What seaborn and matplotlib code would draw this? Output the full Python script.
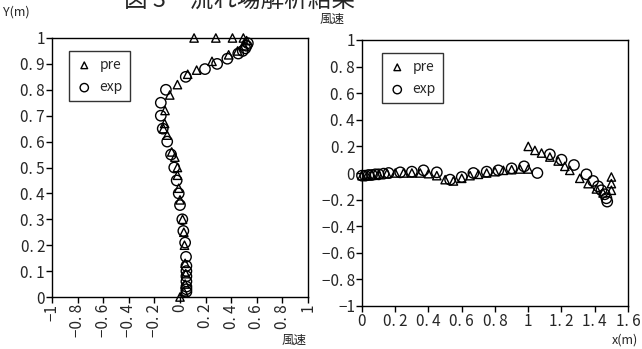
import numpy as np
import pandas as pd
import seaborn as sns
from matplotlib import pyplot as plt
from matplotlib.ticker import FuncFormatter

# left panel: vertical profile (wind speed vs height)
pre_u = [0.0, 0.03, 0.04, 0.045, 0.04, 0.035, 0.03, 0.02, 0.0, -0.01, -0.02,
         -0.02, -0.04, -0.065, -0.10, -0.12, -0.13, -0.117, -0.08, -0.02,
         0.06, 0.13, 0.25, 0.38, 0.45, 0.50, 0.52, 0.11, 0.28, 0.41, 0.495]
pre_y = [0.0, 0.02, 0.05, 0.09, 0.13, 0.20, 0.25, 0.30, 0.375, 0.42, 0.47,
         0.50, 0.54, 0.56, 0.625, 0.67, 0.65, 0.72, 0.78, 0.82,
         0.86, 0.876, 0.91, 0.935, 0.95, 0.97, 0.99, 1.0, 1.0, 1.0, 1.0]
exp_u = [0.05, 0.05, 0.05, 0.05, 0.05, 0.05, 0.05, 0.047, 0.04, 0.026, 0.018,
         0.0, -0.01, -0.026, -0.045, -0.07, -0.10, -0.135, -0.15, -0.15,
         -0.11, 0.045, 0.195, 0.29, 0.37, 0.455, 0.49, 0.51, 0.52, 0.53]
exp_y = [0.02, 0.03, 0.04, 0.06, 0.08, 0.10, 0.12, 0.155, 0.21, 0.255, 0.30,
         0.355, 0.40, 0.45, 0.50, 0.55, 0.60, 0.65, 0.70, 0.75,
         0.80, 0.85, 0.88, 0.90, 0.92, 0.94, 0.95, 0.96, 0.97, 0.98]

# right panel: horizontal distribution (wind speed vs x)
pre_x2 = [0.0, 0.03, 0.06, 0.1, 0.15, 0.2, 0.25, 0.3, 0.35, 0.4, 0.45, 0.5,
          0.55, 0.6, 0.65, 0.7, 0.75, 0.8, 0.85, 0.9, 0.95, 1.0,
          1.0, 1.04, 1.08, 1.13, 1.18, 1.22, 1.25, 1.31, 1.36, 1.41, 1.45,
          1.50, 1.50, 1.50]
pre_v2 = [-0.02, -0.02, -0.015, -0.01, -0.005, 0.0, 0.0, 0.0, 0.0, -0.005,
          -0.02, -0.05, -0.06, -0.04, -0.02, -0.01, 0.0, 0.01, 0.02, 0.025,
          0.03, 0.03,
          0.20, 0.17, 0.15, 0.12, 0.09, 0.05, 0.02, -0.04, -0.08, -0.12,
          -0.15, -0.03, -0.08, -0.13]
exp_x2 = [0.0, 0.02, 0.04, 0.06, 0.08, 0.1, 0.13, 0.16, 0.23, 0.30, 0.37,
          0.45, 0.53, 0.60, 0.67, 0.75, 0.82, 0.90, 0.975, 1.055, 1.13, 1.20,
          1.275, 1.35, 1.39, 1.42, 1.44, 1.46, 1.47, 1.475]
exp_v2 = [-0.02, -0.02, -0.015, -0.015, -0.01, -0.01, -0.005, 0.0, 0.005,
          0.01, 0.02, 0.005, -0.05, -0.03, 0.0, 0.01, 0.02, 0.035, 0.05,
          0.0, 0.14, 0.10, 0.06, -0.01, -0.06, -0.10, -0.13, -0.16, -0.19,
          -0.215]

left_ticks = [-1, -0.8, -0.6, -0.4, -0.2, 0, 0.2, 0.4, 0.6, 0.8, 1]
yl_ticks = [0, 0.1, 0.2, 0.3, 0.4, 0.5, 0.6, 0.7, 0.8, 0.9, 1]
right_xticks = [0, 0.2, 0.4, 0.6, 0.8, 1, 1.2, 1.4, 1.6]
right_yticks = [-1, -0.8, -0.6, -0.4, -0.2, 0, 0.2, 0.4, 0.6, 0.8, 1]

sns.set_style("white")
plt.rcParams['font.family'] = ['Noto Sans CJK JP', 'DejaVu Sans']


def fmt(v, pos=None):
    s = ("%.1f" % v).rstrip("0").rstrip(".")
    if s == "-0":
        s = "0"
    return s.replace(".", ". ").replace("-", "−")


fig = plt.figure(figsize=(6.42, 3.49), dpi=100)
ax1 = fig.add_axes([52 / 642, 1 - 297 / 349, 256 / 642, 259 / 349])
ax2 = fig.add_axes([362 / 642, 1 - 306 / 349, 266 / 642, 266 / 349])

left = pd.concat([
    pd.DataFrame({"u": pre_u, "y": pre_y, "kind": "pre"}),
    pd.DataFrame({"u": exp_u, "y": exp_y, "kind": "exp"}),
])
right = pd.concat([
    pd.DataFrame({"x": pre_x2, "v": pre_v2, "kind": "pre"}),
    pd.DataFrame({"x": exp_x2, "v": exp_v2, "kind": "exp"}),
])

panels = [(ax1, left, "u", "y", (17 / 256, 1 - 13 / 259)),
          (ax2, right, "x", "v", (20 / 266, 1 - 13 / 266))]
for ax, df, xc, yc, anchor in panels:
    sns.scatterplot(data=df[df.kind == "pre"], x=xc, y=yc, ax=ax, marker="^",
                    s=36, facecolor="none", edgecolor="black", linewidth=1.0,
                    label="pre", clip_on=False, zorder=3)
    sns.scatterplot(data=df[df.kind == "exp"], x=xc, y=yc, ax=ax, marker="o",
                    s=56, facecolor="none", edgecolor="black", linewidth=1.0,
                    label="exp", clip_on=False, zorder=3)
    ax.set_xlabel("")
    ax.set_ylabel("")
    for sp in ax.spines.values():
        sp.set_visible(True)
        sp.set_color("black")
        sp.set_linewidth(1.0)
    ax.tick_params(direction="out", length=4, width=1, color="black",
                   labelsize=11, pad=1, bottom=True, left=True)
    ax.xaxis.set_major_formatter(FuncFormatter(fmt))
    ax.yaxis.set_major_formatter(FuncFormatter(fmt))
    leg = ax.legend(loc="upper left", frameon=True, fancybox=False,
                    edgecolor="black", fontsize=10, handletextpad=0.5,
                    borderpad=0.5, labelspacing=0.6, markerscale=0.8,
                    handlelength=1.2, borderaxespad=0,
                    bbox_to_anchor=anchor)
    leg.get_frame().set_linewidth(1.0)

ax1.set_xlim(-1, 1)
ax1.set_ylim(0, 1)
ax1.set_xticks(left_ticks)
ax1.set_yticks(yl_ticks)
for lab in ax1.get_xticklabels():
    lab.set_rotation(90)

ax2.set_xlim(0, 1.6)
ax2.set_ylim(-1, 1)
ax2.set_xticks(right_xticks)
ax2.set_yticks(right_yticks)

fig.text(240 / 642, 1.0, "図 3　流れ場解析結果", fontsize=17,
         ha="center", va="center")
fig.text(3 / 642, 1 - 12 / 349, "Y(m)", fontsize=9, ha="left", va="center")
fig.text(282 / 642, 1 - 340 / 349, "風速", fontsize=9, ha="left", va="center")
fig.text(320 / 642, 1 - 19 / 349, "風速", fontsize=9, ha="left", va="center")
fig.text(612 / 642, 1 - 340 / 349, "x(m)", fontsize=9, ha="left", va="center")

fig.savefig("out.png", dpi=100)
